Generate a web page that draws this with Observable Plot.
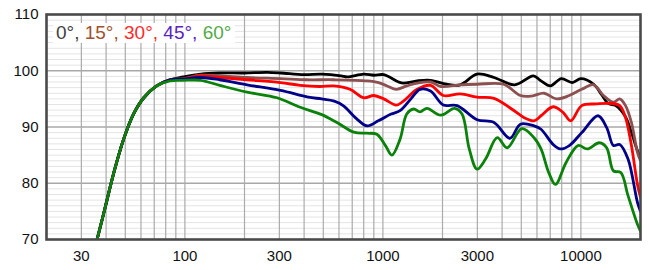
<!DOCTYPE html>
<html><head><meta charset="utf-8">
<script src="https://cdn.jsdelivr.net/npm/d3@7"></script>
<script src="https://cdn.jsdelivr.net/npm/@observablehq/plot@0.6"></script>
<style>
body{margin:0;background:#fff;}
#wrap{position:relative;width:649px;height:270px;}
#legend{position:absolute;left:53px;top:23px;background:#fff;font:19px "Liberation Sans",Arial,sans-serif;line-height:20px;padding:0 4px 0 3px;z-index:2;white-space:nowrap;}
</style></head><body>
<div id="wrap"><div id="legend"></div></div>
<script>
// ---- data (frequency in Hz, level in dB) ----
const seriesNames = ["0°", "15°", "30°", "45°", "60°"];
const lineColors = ["#000000", "#8c5050", "#ff0000", "#000088", "#0a820a"];
const legendColors = ["#404040", "#a0522d", "#ff2a2a", "#5a22c0", "#55aa4a"];

const f0 = [36,39,44,49,55,62,72,84,98,120,150,200,260,304,400,491,614,660,801,900,1010,1200,1270,1490,1740,2100,2460,2990,3640,4630,5760,6290,7010,7960,9040,10000,11600,12700,13700,15000,16800,18000,19300,20000];
const v0 = [70,74.8,82.2,87.8,92.3,95.2,97.3,98.4,98.9,99.4,99.6,99.6,99.7,99.6,99.3,99.4,99.1,98.9,99.4,99.2,99.3,98.0,97.8,98.2,98.3,97.6,97.5,99.4,98.8,97.5,99.1,98.2,97.3,98.6,97.9,98.6,97.6,95.8,94.2,93.8,91.8,89.0,85.8,84.5];

const f15 = [36,39,44,49,55,62,72,84,98,120,150,206,304,410,564,832,950,1050,1170,1320,1490,1740,1960,2460,2990,4070,4950,5630,6520,7540,8740,10100,11600,13000,14600,15700,16800,18000,19300,20000];
const v15 = [70,74.8,82.2,87.8,92.3,95.2,97.3,98.4,98.6,99.2,99.1,98.8,98.6,98.4,98.4,98.2,97.9,97.3,96.7,97.3,97.8,98.0,97.2,97.5,97.6,97.6,95.6,95.5,96.0,95.0,95.6,96.7,97.5,95.6,94.4,95.0,93.8,90.8,85.5,84.0];

const f30 = [36,39,44,49,55,62,72,84,98,120,150,206,304,383,480,564,682,801,900,1010,1170,1270,1490,1740,2020,2460,2990,3640,4470,5150,5800,6290,7240,8120,8880,10100,12000,14000,15700,16800,18000,19300,20000];
const v30 = [70,74.8,82.2,87.8,92.3,95.2,97.3,98.4,98.5,99.1,98.8,98.4,97.9,97.4,97.2,97.3,96.7,95.2,95.6,95.0,93.9,94.6,96.7,97.4,95.6,95.9,95.3,95.1,93.2,91.7,91.1,92.0,93.6,92.6,91.1,93.8,94.1,94.2,93.8,91.7,86.7,79.8,77.5];

const f45 = [36,39,44,49,55,62,72,84,98,120,150,206,304,420,491,568,630,735,832,948,1100,1220,1385,1540,1740,2020,2370,2990,3640,4380,4950,5800,6290,7240,7860,8740,10100,12200,13500,14600,15700,17300,19300,20000];
const v45 = [70,74.8,82.2,87.8,92.3,95.2,97.3,98.4,98.5,98.8,98.4,97.5,96.5,95.3,95.0,94.6,93.8,91.5,90.2,91.1,92.3,92.9,95.0,96.7,96.4,93.9,93.8,91.3,90.8,88.0,90.5,90.2,89.6,86.9,86.1,86.7,89.0,92.0,89.9,86.7,86.9,84.3,76.6,75.0];

const f60 = [36,39,44,49,55,62,72,84,98,120,150,206,292,383,491,586,712,832,932,1030,1110,1220,1320,1430,1540,1670,1960,2300,2510,2730,2990,3300,3780,4240,5030,5800,6290,6880,7440,8420,9680,10750,12400,13500,14600,15900,17300,19300,20000];
const v60 = [70,74.8,82.2,87.8,92.3,95.2,97.3,98.2,98.3,98.3,97.4,96.2,95.2,93.5,92.2,90.8,89.1,88.9,88.7,86.7,85.0,87.8,92.3,93.2,92.7,93.3,92.1,93.3,92.3,86.1,82.5,84.3,88.1,86.3,89.7,88.1,86.1,81.9,79.8,83.7,86.7,86.1,87.2,86.3,82.2,81.9,77.8,72.7,71.5];

// ---- axes / grid values ----
const xTicks = [30, 100, 300, 1000, 3000, 10000];
const yTicks = [70, 80, 90, 100, 110];
const xGrid = [30,40,50,60,70,80,90,100,200,300,400,500,600,700,800,900,1000,2000,3000,4000,5000,6000,7000,8000,9000,10000];
const yMajorGrid = [80, 90, 100];
const yMinorGrid = d3.range(71, 110).filter(d => d % 10 !== 0);

const freqs = [f0, f15, f30, f45, f60];
const levels = [v0, v15, v30, v45, v60];
const rows = [];
seriesNames.forEach((name, i) => {
  freqs[i].forEach((f, j) => rows.push({series: name, f, db: levels[i][j]}));
});

const chart = Plot.plot({
  width: 649,
  height: 270,
  marginLeft: 46,
  marginRight: 9,
  marginTop: 14,
  marginBottom: 31,
  style: {fontFamily: "'Liberation Sans', Arial, sans-serif", fontSize: "15px", color: "#111", background: "#fff"},
  x: {type: "log", domain: [20, 20000]},
  y: {domain: [70, 110]},
  color: {domain: seriesNames, range: lineColors},
  marks: [
    Plot.ruleY(yMinorGrid, {stroke: "#e4e4e4", strokeWidth: 1}),
    Plot.ruleY(yMajorGrid, {stroke: "#a8a8a8", strokeWidth: 1.5}),
    Plot.ruleX(xGrid, {stroke: "#ababab", strokeWidth: 1.2}),
    Plot.line(rows, {x: "f", y: "db", z: "series", stroke: "series", strokeWidth: 2.8, curve: "catmull-rom", clip: true}),
    Plot.axisX({ticks: xTicks, tickSize: 0, tickPadding: 11, tickFormat: d => String(d), label: null, fontSize: 15}),
    Plot.axisY({ticks: yTicks, tickSize: 0, tickPadding: 8, label: null, fontSize: 15}),
    Plot.frame({stroke: "#4a4a4a", strokeWidth: 2.6})
  ]
});
document.getElementById("wrap").prepend(chart);

const legend = document.getElementById("legend");
seriesNames.forEach((name, i) => {
  const s = document.createElement("span");
  s.style.color = legendColors[i];
  s.textContent = name + (i < seriesNames.length - 1 ? ", " : "");
  legend.appendChild(s);
});
</script>
</body></html>
